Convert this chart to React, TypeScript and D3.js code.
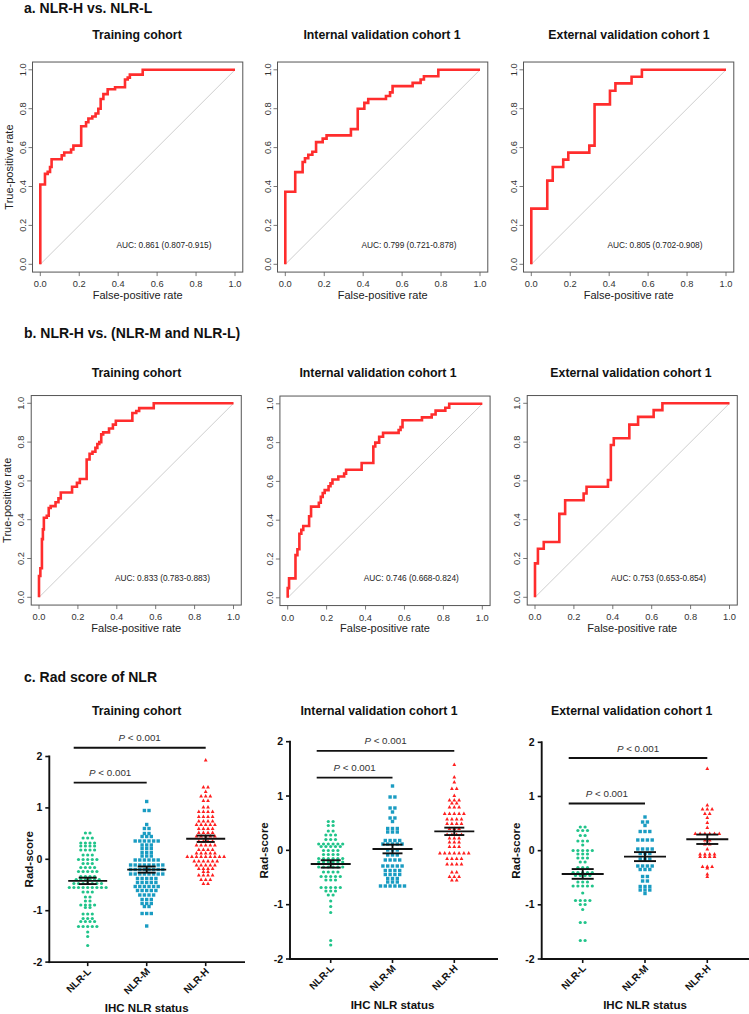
import React from "react";
import * as d3 from "d3";

// ---------------- DATA ----------------
const panelHeadings = ["a. NLR-H vs. NLR-L", "b. NLR-H vs. (NLR-M and NLR-L)", "c. Rad score of NLR"];
const cohortTitles = ["Training cohort", "Internal validation cohort 1", "External validation cohort 1"];
const rocTicks = [0, 0.2, 0.4, 0.6, 0.8, 1.0];

// ROC step points [fpr, tpr]
const rocA_train: [number, number][] = [[0,0],[0,0.41],[0.024,0.465],[0.038,0.475],[0.05,0.5],[0.058,0.54],[0.11,0.56],[0.123,0.575],[0.158,0.59],[0.17,0.61],[0.21,0.71],[0.235,0.73],[0.247,0.75],[0.267,0.76],[0.284,0.775],[0.298,0.8],[0.31,0.85],[0.324,0.875],[0.346,0.9],[0.384,0.91],[0.435,0.95],[0.449,0.96],[0.46,0.975],[0.526,1],[1,1]];
const rocA_internal: [number, number][] = [[0,0],[0,0.373],[0.051,0.474],[0.089,0.526],[0.101,0.545],[0.118,0.563],[0.139,0.579],[0.158,0.628],[0.192,0.646],[0.212,0.663],[0.337,0.695],[0.372,0.8],[0.406,0.83],[0.426,0.85],[0.517,0.865],[0.538,0.884],[0.551,0.916],[0.654,0.933],[0.695,0.95],[0.712,0.967],[0.786,1],[1,1]];
const rocA_external: [number, number][] = [[0,0],[0,0.286],[0.082,0.43],[0.11,0.5],[0.164,0.538],[0.19,0.574],[0.298,0.61],[0.325,0.822],[0.404,0.892],[0.432,0.93],[0.515,0.964],[0.568,1],[1,1]];
const rocB_train: [number, number][] = [[0,0],[0,0.11],[0.007,0.15],[0.015,0.3],[0.02,0.35],[0.025,0.41],[0.04,0.42],[0.05,0.46],[0.06,0.47],[0.085,0.49],[0.1,0.51],[0.112,0.54],[0.17,0.57],[0.195,0.59],[0.21,0.61],[0.245,0.71],[0.26,0.74],[0.275,0.75],[0.29,0.77],[0.3,0.79],[0.31,0.8],[0.32,0.84],[0.33,0.85],[0.36,0.87],[0.38,0.89],[0.395,0.91],[0.48,0.95],[0.5,0.96],[0.515,0.975],[0.59,1],[1,1]];
const rocB_internal: [number, number][] = [[0,0],[0,0.05],[0.007,0.1],[0.04,0.22],[0.05,0.25],[0.06,0.33],[0.07,0.35],[0.08,0.37],[0.11,0.42],[0.12,0.47],[0.16,0.49],[0.17,0.52],[0.18,0.54],[0.19,0.555],[0.21,0.575],[0.22,0.59],[0.23,0.61],[0.26,0.625],[0.29,0.64],[0.3,0.66],[0.38,0.695],[0.44,0.78],[0.45,0.8],[0.47,0.83],[0.49,0.85],[0.57,0.865],[0.58,0.88],[0.59,0.915],[0.69,0.93],[0.74,0.945],[0.76,0.965],[0.81,0.98],[0.83,1],[1,1]];
const rocB_external: [number, number][] = [[0,0],[0,0.175],[0.015,0.25],[0.045,0.285],[0.125,0.43],[0.155,0.5],[0.25,0.535],[0.265,0.57],[0.375,0.605],[0.39,0.785],[0.405,0.82],[0.485,0.89],[0.53,0.93],[0.61,0.965],[0.655,1],[1,1]];

const aucA = ["AUC: 0.861 (0.807-0.915)", "AUC: 0.799 (0.721-0.878)", "AUC: 0.805 (0.702-0.908)"];
const aucB = ["AUC: 0.833 (0.783-0.883)", "AUC: 0.746 (0.668-0.824)", "AUC: 0.753 (0.653-0.854)"];

// Rad-score scatter
const categories = ["NLR-L", "NLR-M", "NLR-H"];
const radTicks = [-2, -1, 0, 1, 2];

const train_L = [0.51,0.51,0.41,0.41,0.41,0.32,0.32,0.32,0.32,0.26,0.26,0.26,0.26,0.18,0.18,0.18,0.18,0.08,0.08,0.08,0,0,0,0,0,-0.08,-0.08,-0.08,-0.16,-0.16,-0.16,-0.16,-0.24,-0.24,-0.24,-0.24,-0.24,-0.33,-0.33,-0.33,-0.33,-0.39,-0.39,-0.39,-0.39,-0.39,-0.39,-0.47,-0.47,-0.47,-0.47,-0.47,-0.47,-0.47,-0.545,-0.545,-0.545,-0.545,-0.545,-0.545,-0.545,-0.545,-0.545,-0.64,-0.64,-0.64,-0.73,-0.73,-0.81,-0.81,-0.89,-0.89,-0.89,-0.89,-0.94,-0.94,-1.06,-1.06,-1.06,-1.15,-1.15,-1.15,-1.21,-1.21,-1.21,-1.21,-1.31,-1.31,-1.31,-1.31,-1.31,-1.41,-1.5,-1.68];
const train_M = [1.12,0.95,0.95,0.68,0.6,0.6,0.5,0.5,0.44,0.44,0.44,0.36,0.36,0.36,0.36,0.36,0.36,0.28,0.28,0.28,0.21,0.21,0.21,0.13,0.13,0.13,0.06,0.06,0.06,-0.01,-0.01,-0.01,-0.01,-0.01,-0.01,-0.11,-0.11,-0.11,-0.11,-0.11,-0.11,-0.11,-0.11,-0.195,-0.195,-0.195,-0.195,-0.195,-0.195,-0.195,-0.195,-0.29,-0.29,-0.29,-0.29,-0.29,-0.29,-0.29,-0.29,-0.37,-0.37,-0.37,-0.37,-0.37,-0.455,-0.455,-0.455,-0.455,-0.455,-0.53,-0.53,-0.53,-0.53,-0.53,-0.53,-0.61,-0.61,-0.61,-0.61,-0.61,-0.69,-0.69,-0.69,-0.69,-0.78,-0.78,-0.78,-0.86,-0.86,-0.86,-0.92,-0.92,-1.05,-1.05,-1.05,-1.3];
const train_H = [1.93,1.41,1.41,1.32,1.23,1.23,1.23,1.14,1.14,1.02,1.02,0.93,0.93,0.93,0.93,0.83,0.83,0.83,0.83,0.75,0.75,0.75,0.75,0.68,0.68,0.68,0.68,0.68,0.6,0.6,0.6,0.6,0.52,0.52,0.52,0.52,0.45,0.45,0.45,0.45,0.45,0.36,0.36,0.36,0.36,0.28,0.28,0.28,0.28,0.28,0.19,0.19,0.19,0.19,0.12,0.12,0.12,0.12,0.12,0.05,0.05,0.05,0.05,0.05,0.05,0.05,0.05,0.05,-0.03,-0.03,-0.03,-0.03,-0.03,-0.03,-0.11,-0.11,-0.11,-0.11,-0.11,-0.18,-0.18,-0.18,-0.18,-0.24,-0.24,-0.31,-0.31,-0.31,-0.31,-0.39,-0.39,-0.39,-0.47,-0.47];

const int_L = [0.53,0.53,0.46,0.46,0.36,0.36,0.28,0.28,0.28,0.2,0.2,0.2,0.12,0.12,0.12,0.12,0.12,0.12,0.07,0.07,0.07,0.07,0.07,0,0,0,0,-0.08,-0.08,-0.08,-0.08,-0.15,-0.15,-0.15,-0.15,-0.15,-0.15,-0.21,-0.21,-0.21,-0.21,-0.21,-0.21,-0.31,-0.31,-0.31,-0.31,-0.31,-0.31,-0.4,-0.4,-0.4,-0.4,-0.48,-0.48,-0.48,-0.48,-0.48,-0.55,-0.55,-0.55,-0.68,-0.68,-0.68,-0.68,-0.68,-0.75,-0.75,-0.75,-0.82,-0.82,-0.93,-1.03,-1.14,-1.66,-1.74];
const int_M = [1.18,0.98,0.98,0.78,0.78,0.71,0.6,0.6,0.53,0.4,0.4,0.4,0.34,0.34,0.34,0.18,0.18,0.18,0.18,0.12,0.12,0.12,0.12,0.12,0.01,0.01,0.01,-0.09,-0.09,-0.09,-0.18,-0.18,-0.18,-0.18,-0.29,-0.29,-0.29,-0.29,-0.29,-0.37,-0.37,-0.37,-0.37,-0.44,-0.44,-0.44,-0.44,-0.52,-0.52,-0.52,-0.58,-0.58,-0.58,-0.66,-0.66,-0.66,-0.66,-0.66,-0.66];
const int_H = [1.58,1.35,1.26,1.14,1.14,1.01,0.93,0.93,0.93,0.87,0.87,0.8,0.8,0.8,0.68,0.68,0.68,0.68,0.68,0.58,0.58,0.58,0.58,0.49,0.49,0.49,0.49,0.4,0.4,0.4,0.29,0.29,0.29,0.29,0.23,0.23,0.23,0.15,0.15,0.15,0.07,0.07,0.07,-0.05,-0.05,-0.05,-0.05,-0.05,-0.05,-0.05,-0.15,-0.15,-0.15,-0.15,-0.25,-0.25,-0.25,-0.25,-0.4,-0.4,-0.48,-0.48,-0.48,-0.55,-0.55];

const ext_L = [0.44,0.44,0.37,0.37,0.37,0.28,0.28,0.18,0.18,0.18,0.1,0,0,0,0,0,-0.06,-0.06,-0.06,-0.14,-0.14,-0.14,-0.21,-0.21,-0.31,-0.31,-0.31,-0.4,-0.4,-0.4,-0.4,-0.4,-0.46,-0.46,-0.46,-0.46,-0.58,-0.58,-0.58,-0.65,-0.65,-0.65,-0.65,-0.65,-0.78,-0.92,-0.92,-0.92,-0.92,-0.99,-0.99,-1.09,-1.33,-1.33,-1.66,-1.66];
const ext_M = [0.62,0.53,0.53,0.46,0.35,0.35,0.35,0.2,0.2,0.2,0.2,0.03,0.03,0.03,0.03,-0.05,-0.05,-0.05,-0.15,-0.15,-0.15,-0.28,-0.28,-0.28,-0.28,-0.35,-0.35,-0.35,-0.48,-0.48,-0.56,-0.56,-0.66,-0.66,-0.66,-0.73,-0.73,-0.73,-0.79];
const ext_H = [1.52,0.84,0.77,0.77,0.77,0.69,0.69,0.61,0.52,0.43,0.32,0.32,0.32,0.32,0.32,0.32,0.2,0.2,0.12,0.12,0.03,-0.06,-0.06,-0.06,-0.06,-0.11,-0.11,-0.11,-0.11,-0.29,-0.29,-0.29,-0.32,-0.43,-0.48];

const train_means = [-0.42, -0.2, 0.4];
const train_sems = [0.062, 0.06, 0.062];
const int_means = [-0.25, 0.025, 0.35];
const int_sems = [0.068, 0.08, 0.068];
const ext_means = [-0.43, -0.11, 0.21];
const ext_sems = [0.09, 0.083, 0.087];

// comparison bars: [from category, to category, y value]
const train_pbars: [number, number, number][] = [[0, 2, 2.17], [0, 1, 1.49]];
const int_pbars: [number, number, number][] = [[0, 2, 1.83], [0, 1, 1.34]];
const ext_pbars: [number, number, number][] = [[0, 2, 1.71], [0, 1, 0.87]];
const pLabel = "< 0.001";

// ---------------- STYLE ----------------
const FONT = "'Liberation Sans', Arial, Helvetica, sans-serif";
const ROC_RED = "#ff2d2d";
const GREEN = "#20c48a";
const BLUE = "#1a9cc2";
const RED = "#ff1f1f";
const groupColors = [GREEN, BLUE, RED];

type RocProps = {
  pts: [number, number][];
  x0: number; x1: number; y0: number; y1: number;
  title: string; titleX: number; titleY: number;
  auc: string; showYLabel: boolean;
};

function RocPanel({ pts, x0, x1, y0, y1, title, titleX, titleY, auc, showYLabel }: RocProps) {
  const xs = d3.scaleLinear().domain([0, 1]).range([x0, x1]);
  const ys = d3.scaleLinear().domain([0, 1]).range([y0, y1]);
  const line = d3.line<[number, number]>().x(d => xs(d[0])).y(d => ys(d[1])).curve(d3.curveStepAfter);
  const bl = xs(-0.04), br = xs(1.04), bt = ys(1.04), bb = ys(-0.04);
  const fmt = d3.format(".1f");
  return (
    <g fontFamily={FONT}>
      <text x={titleX} y={titleY} textAnchor="middle" fontSize={12.3} fontWeight="bold" fill="#111">{title}</text>
      <rect x={bl} y={bt} width={br - bl} height={bb - bt} fill="none" stroke="#555" strokeWidth={1} />
      <line x1={xs(0)} y1={ys(0)} x2={xs(1)} y2={ys(1)} stroke="#c8c8c8" strokeWidth={0.9} />
      <path d={line(pts) || ""} fill="none" stroke={ROC_RED} strokeWidth={2.6} />
      {rocTicks.map(t => (
        <g key={"x" + t}>
          <line x1={xs(t)} x2={xs(t)} y1={bb} y2={bb + 4} stroke="#555" strokeWidth={0.8} />
          <text x={xs(t)} y={bb + 15} textAnchor="middle" fontSize={9.3} fill="#333">{fmt(t)}</text>
        </g>
      ))}
      {rocTicks.map(t => (
        <g key={"y" + t}>
          <line x1={bl - 4} x2={bl} y1={ys(t)} y2={ys(t)} stroke="#555" strokeWidth={0.8} />
          <text transform={`translate(${bl - 7},${ys(t)}) rotate(-90)`} textAnchor="middle" fontSize={9.3} fill="#333">{fmt(t)}</text>
        </g>
      ))}
      <text x={(bl + br) / 2} y={bb + 26.5} textAnchor="middle" fontSize={11} fill="#222">False-positive rate</text>
      {showYLabel && (
        <text transform={`translate(${bl - 20},${(bt + bb) / 2}) rotate(-90)`} textAnchor="middle" fontSize={11} fill="#222">True-positive rate</text>
      )}
      <text x={xs(0.635)} y={ys(0.1) + 3} textAnchor="middle" fontSize={8.3} fill="#222">{auc}</text>
    </g>
  );
}

type ScatterProps = {
  groups: number[][]; means: number[]; sems: number[]; pbars: [number, number, number][];
  axisX: number; axisEnd: number; yTop: number; yBottom: number; catStart: number; catEnd: number;
  title: string; titleX: number; titleY: number; yLabelX: number; spacing: number; meanHalf: number; capHalf: number;
};

function layoutSwarm(vals: number[], ys: (v: number) => number, cx: number, spacing: number) {
  const rows = d3.group(vals, v => Math.round(ys(v) * 2) / 2);
  const out: { x: number; y: number }[] = [];
  rows.forEach((arr, y) => {
    const n = arr.length;
    arr.forEach((_, i) => out.push({ x: cx + (i - (n - 1) / 2) * spacing, y }));
  });
  return out;
}

function Marker({ kind, x, y, color }: { kind: number; x: number; y: number; color: string }) {
  if (kind === 0) return <circle cx={x} cy={y} r={1.6} fill={color} />;
  if (kind === 1) return <rect x={x - 1.7} y={y - 1.7} width={3.4} height={3.4} fill={color} />;
  return <path d={`M${x},${y - 2}L${x + 1.9},${y + 1.4}L${x - 1.9},${y + 1.4}Z`} fill={color} />;
}

function ScatterPanel(p: ScatterProps) {
  const ys = d3.scaleLinear().domain([-2, 2]).range([p.yBottom, p.yTop]);
  const xs = d3.scalePoint<string>().domain(categories).range([p.catStart, p.catEnd]);
  return (
    <g fontFamily={FONT}>
      <text x={p.titleX} y={p.titleY} textAnchor="middle" fontSize={12.3} fontWeight="bold" fill="#111">{p.title}</text>
      {p.groups.map((vals, gi) => {
        const cx = xs(categories[gi]) as number;
        return layoutSwarm(vals, ys, cx, p.spacing).map((pt, i) => (
          <Marker key={gi + "-" + i} kind={gi} x={pt.x} y={pt.y} color={groupColors[gi]} />
        ));
      })}
      {p.means.map((m, gi) => {
        const cx = xs(categories[gi]) as number;
        const s = p.sems[gi];
        return (
          <g key={"m" + gi} stroke="#111" strokeWidth={1.9}>
            <line x1={cx} x2={cx} y1={ys(m + s)} y2={ys(m - s)} />
            <line x1={cx - p.capHalf} x2={cx + p.capHalf} y1={ys(m + s)} y2={ys(m + s)} />
            <line x1={cx - p.capHalf} x2={cx + p.capHalf} y1={ys(m - s)} y2={ys(m - s)} />
            <line x1={cx - p.meanHalf} x2={cx + p.meanHalf} y1={ys(m)} y2={ys(m)} />
          </g>
        );
      })}
      {p.pbars.map(([a, b, v], i) => {
        const xa = (xs(categories[a]) as number) - 14;
        const xb = xs(categories[b]) as number;
        return (
          <g key={"p" + i}>
            <line x1={xa} x2={xb} y1={ys(v)} y2={ys(v)} stroke="#111" strokeWidth={1.8} />
            <text x={(xa + xb) / 2} y={ys(v) - 6.5} textAnchor="middle" fontSize={9.8} fill="#333">
              <tspan fontStyle="italic">P</tspan> {pLabel}
            </text>
          </g>
        );
      })}
      <line x1={p.axisX} x2={p.axisX} y1={p.yTop - 1} y2={p.yBottom + 1} stroke="#111" strokeWidth={1.9} />
      <line x1={p.axisX - 1} x2={p.axisEnd} y1={p.yBottom} y2={p.yBottom} stroke="#111" strokeWidth={1.9} />
      {radTicks.map(t => (
        <g key={"t" + t}>
          <line x1={p.axisX - 4} x2={p.axisX} y1={ys(t)} y2={ys(t)} stroke="#111" strokeWidth={1.6} />
          <text x={p.axisX - 7} y={ys(t) + 3.5} textAnchor="end" fontSize={10.5} fontWeight="bold" fill="#111">{t}</text>
        </g>
      ))}
      {categories.map(c => {
        const cx = xs(c) as number;
        return (
          <g key={c}>
            <line x1={cx} x2={cx} y1={p.yBottom} y2={p.yBottom + 4} stroke="#111" strokeWidth={1.6} />
            <text transform={`translate(${cx + 4},${p.yBottom + 10}) rotate(-45)`} textAnchor="end" fontSize={10} fontWeight="bold" fill="#111">{c}</text>
          </g>
        );
      })}
      <text x={xs("NLR-M") as number} y={p.yBottom + 50} textAnchor="middle" fontSize={11.5} fontWeight="bold" fill="#111">IHC NLR status</text>
      <text transform={`translate(${p.yLabelX},${(p.yTop + p.yBottom) / 2}) rotate(-90)`} textAnchor="middle" fontSize={11.5} fontWeight="bold" fill="#111">Rad-score</text>
    </g>
  );
}

export default function App() {
  return (
    <svg width={749} height={1014} style={{ position: "absolute", left: 0, top: 0, background: "#fff" }} fontFamily={FONT}>
      <rect x={0} y={0} width={749} height={1014} fill="#fff" />
      <text x={24} y={12.5} fontSize={14} fontWeight="bold" fill="#111">{panelHeadings[0]}</text>
      <text x={24} y={338} fontSize={14} fontWeight="bold" fill="#111">{panelHeadings[1]}</text>
      <text x={24} y={682} fontSize={14} fontWeight="bold" fill="#111">{panelHeadings[2]}</text>

      <RocPanel pts={rocA_train} x0={40.3} x1={235} y0={264.3} y1={69.8} title={cohortTitles[0]} titleX={137} titleY={39} auc={aucA[0]} showYLabel />
      <RocPanel pts={rocA_internal} x0={285.3} x1={480} y0={264.3} y1={69.8} title={cohortTitles[1]} titleX={382} titleY={39} auc={aucA[1]} showYLabel={false} />
      <RocPanel pts={rocA_external} x0={531.3} x1={726} y0={264.3} y1={69.8} title={cohortTitles[2]} titleX={629} titleY={39} auc={aucA[2]} showYLabel={false} />

      <RocPanel pts={rocB_train} x0={39} x1={233.5} y0={597.3} y1={403.3} title={cohortTitles[0]} titleX={136.5} titleY={376.8} auc={aucB[0]} showYLabel />
      <RocPanel pts={rocB_internal} x0={287.7} x1={482.3} y0={597.8} y1={403.8} title={cohortTitles[1]} titleX={378} titleY={376.8} auc={aucB[1]} showYLabel={false} />
      <RocPanel pts={rocB_external} x0={535} x1={729.5} y0={597.3} y1={403.3} title={cohortTitles[2]} titleX={631} titleY={376.8} auc={aucB[2]} showYLabel={false} />

      <ScatterPanel groups={[train_L, train_M, train_H]} means={train_means} sems={train_sems} pbars={train_pbars}
        axisX={49.3} axisEnd={245} yTop={756.5} yBottom={962.1} catStart={87.7} catEnd={205.7}
        title={cohortTitles[0]} titleX={136.7} titleY={715} yLabelX={33} spacing={4.6} meanHalf={19.5} capHalf={9} />
      <ScatterPanel groups={[int_L, int_M, int_H]} means={int_means} sems={int_sems} pbars={int_pbars}
        axisX={290} axisEnd={498} yTop={741.7} yBottom={959} catStart={330.7} catEnd={454.3}
        title={cohortTitles[1]} titleX={379} titleY={715} yLabelX={268} spacing={4.8} meanHalf={20} capHalf={10} />
      <ScatterPanel groups={[ext_L, ext_M, ext_H]} means={ext_means} sems={ext_sems} pbars={ext_pbars}
        axisX={541.7} axisEnd={749} yTop={742.3} yBottom={959} catStart={582.7} catEnd={707.3}
        title={cohortTitles[2]} titleX={631.7} titleY={715} yLabelX={519.5} spacing={4.8} meanHalf={21} capHalf={11} />
    </svg>
  );
}
